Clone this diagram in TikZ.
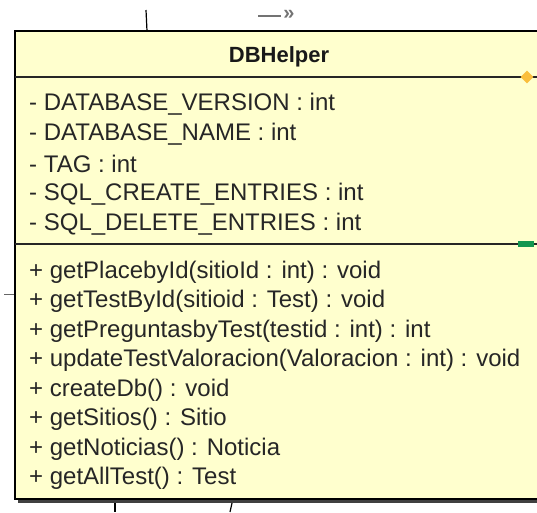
\documentclass[tikz,border=0pt]{standalone}
\usepackage{fontspec}
\setmainfont{Liberation Sans}
\usetikzlibrary{shapes.geometric}
\definecolor{umlfill}{RGB}{255,255,206}
\definecolor{umlorange}{RGB}{250,190,60}
\definecolor{umlgreen}{RGB}{20,150,80}
\begin{document}
\begin{tikzpicture}[x=1pt,y=-1pt,
  txt/.style={anchor=west,inner sep=0pt,text=black!85,font=\fontsize{24}{24}\selectfont},
  ttl/.style={inner sep=0pt,text=black!90,font=\bfseries\fontsize{22}{22}\selectfont},
  edge/.style={line width=1.3pt,black!85}]
\useasboundingbox (0,0) rectangle (537,512);
\begin{scope}
\clip (0,0) rectangle (537,512);
% shadow
\fill[black!75] (18,34) rectangle (560,503);
\fill[umlfill] (15,31) rectangle (560,499);
\draw[line width=2pt,black] (15,31) rectangle (560,499);
\coordinate (d1l) at (15,77); \coordinate (d1r) at (560,77);
\coordinate (d2l) at (15,244); \coordinate (d2r) at (560,244);
\draw[edge] (d1l) -- (d1r);
\draw[edge] (d2l) -- (d2r);
\node[diamond,fill=umlorange,minimum size=13pt,inner sep=0pt] (dia) at (527,77) {};
\node[fill=umlgreen,minimum width=16pt,minimum height=6pt,inner sep=0pt] (grn) at (526,244) {};
\end{scope}
% outside ticks
\coordinate (t1a) at (146,10); \coordinate (t1b) at (147,31);
\draw[line width=1.2pt] (t1a) -- (t1b);
\coordinate (b1a) at (115,503); \coordinate (b1b) at (115,512);
\draw[line width=1.2pt] (b1a) -- (b1b);
\coordinate (b2a) at (232,503); \coordinate (b2b) at (230,512);
\draw[line width=1.2pt] (b2a) -- (b2b);
\coordinate (l1a) at (4,294); \coordinate (l1b) at (14,294);
\draw[line width=0.8pt,black!60] (l1a) -- (l1b);
\coordinate (ar1) at (258,16); \coordinate (ar2) at (281,16);
\draw[line width=2.2pt,black!55] (ar1) -- (ar2);
\node[inner sep=0pt,text=black!55,font=\bfseries\fontsize{20}{20}\selectfont] (chev) at (289,15) {»};
% texts
\node[ttl] (title) at (279,57) {DBHelper};
\node[txt] (a1) at (29,104) {- DATABASE\_VERSION : int};
\node[txt] (a2) at (29,134) {- DATABASE\_NAME : int};
\node[txt] (a3) at (29,164) {- TAG : int};
\node[txt] (a4) at (29,194) {- SQL\_CREATE\_ENTRIES : int};
\node[txt] (a5) at (29,224) {- SQL\_DELETE\_ENTRIES : int};
\node[txt] (m1) at (29,272) {+ getPlacebyId(sitioId : int) : void};
\node[txt] (m2) at (29,301.5) {+ getTestById(sitioid : Test) : void};
\node[txt] (m3) at (29,331) {+ getPreguntasbyTest(testid : int) : int};
\node[txt] (m4) at (29,360.5) {+ updateTestValoracion(Valoracion : int) : void};
\node[txt] (m5) at (29,390) {+ createDb() : void};
\node[txt] (m6) at (29,419.5) {+ getSitios() : Sitio};
\node[txt] (m7) at (29,449) {+ getNoticias() : Noticia};
\node[txt] (m8) at (29,478.5) {+ getAllTest() : Test};
\end{tikzpicture}
\end{document}
